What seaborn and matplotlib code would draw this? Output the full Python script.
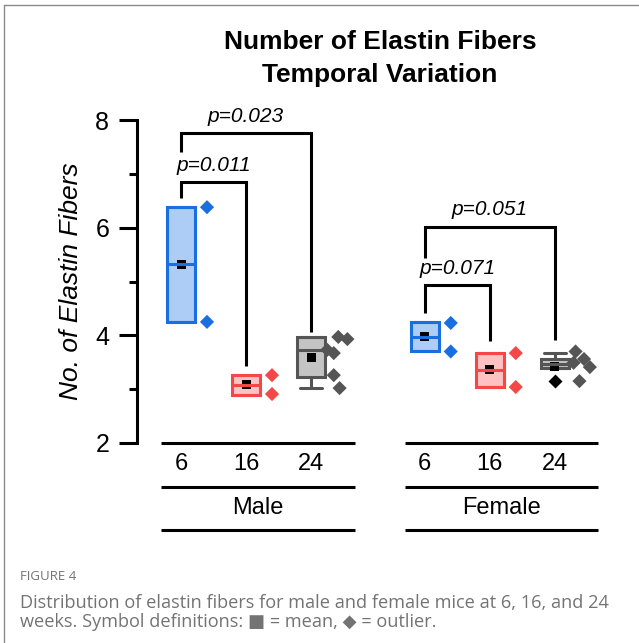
import numpy as np
import pandas as pd
import seaborn as sns
import matplotlib.pyplot as plt
from matplotlib.lines import Line2D

# ---------------- data ----------------
sexes = ["Male", "Male", "Male", "Female", "Female", "Female"]
weeks = ["6", "16", "24", "6", "16", "24"]

# individual observations (diamonds)
male_6 = [6.38, 4.25]
male_16 = [3.26, 2.91]
male_24 = [3.97, 3.93, 3.73, 3.67, 3.26, 3.02]
female_6 = [4.23, 3.70]
female_16 = [3.67, 3.04]
female_24 = [3.70, 3.56, 3.49, 3.41, 3.15]
observations = [male_6, male_16, male_24, female_6, female_16, female_24]

# box statistics
box_q1 = [4.25, 2.89, 3.23, 3.70, 3.04, 3.39]
box_med = [5.32, 3.08, 3.73, 3.97, 3.36, 3.46]
box_q3 = [6.38, 3.26, 3.97, 4.25, 3.68, 3.56]
whisk_lo = [4.25, 2.89, 3.02, 3.70, 3.04, 3.39]
whisk_hi = [6.38, 3.26, 3.97, 4.25, 3.68, 3.68]
means = [5.32, 3.08, 3.58, 3.97, 3.36, 3.43]
box_outliers = [[], [], [], [], [], [3.15]]

# significance brackets
p_labels = ["p=0.011", "p=0.023", "p=0.071", "p=0.051"]
p_from = [0, 0, 3, 3]
p_to = [1, 2, 4, 5]
p_top = [6.84, 7.75, 4.94, 6.02]
p_left_end = [6.55, 7.41, 4.41, 5.44]
p_right_end = [3.43, 4.07, 3.90, 3.91]

# ---------------- layout / style ----------------
positions = [0, 1, 2, 3.75, 4.75, 5.75]
point_offsets = [
    [0.40, 0.40],
    [0.40, 0.40],
    [0.42, 0.56, 0.25, 0.35, 0.35, 0.44],
    [0.40, 0.40],
    [0.40, 0.40],
    [0.32, 0.45, 0.29, 0.54, 0.38],
]
edge_cols = ["#1a6fe0", "#f44848", "#555555"] * 2
face_cols = ["#aecdf6", "#ffc1c1", "#c4c4c4"] * 2

sns.set_style("ticks")
plt.rcParams["font.family"] = ["Liberation Sans", "DejaVu Sans"]
plt.rcParams["text.color"] = "black"
plt.rcParams["axes.labelcolor"] = "black"
plt.rcParams["xtick.color"] = "black"
plt.rcParams["ytick.color"] = "black"

W, H = 639, 643
fig = plt.figure(figsize=(W / 100, H / 100), dpi=100)
ax = fig.add_axes([137 / W, 1 - 443 / H, (600 - 137) / W, (443 - 120) / H])
ax.set_facecolor("none")
ax.set_ylim(2, 8)
ax.set_xlim(-0.677, 6.446)

LW = 2.2

# boxes
for i in range(6):
    st = dict(q1=box_q1[i], med=box_med[i], q3=box_q3[i],
              whislo=whisk_lo[i], whishi=whisk_hi[i], fliers=box_outliers[i])
    ax.bxp([st], positions=[positions[i]], widths=0.43, capwidths=0.34,
           patch_artist=True, showmeans=False, manage_ticks=False,
           boxprops=dict(facecolor=face_cols[i], edgecolor=edge_cols[i], linewidth=LW, zorder=2),
           medianprops=dict(color=edge_cols[i], linewidth=LW, zorder=4),
           whiskerprops=dict(color=edge_cols[i], linewidth=LW),
           capprops=dict(color=edge_cols[i], linewidth=LW),
           flierprops=dict(marker="D", markerfacecolor="black", markeredgecolor="none",
                           markersize=7))

# means
mean_df = pd.DataFrame({"x": positions, "mean": means})
sns.scatterplot(data=mean_df, x="x", y="mean", marker="s", color="black", s=42,
                edgecolor="none", zorder=3, ax=ax, legend=False)

# points
rows = []
for i, obs in enumerate(observations):
    for v, off in zip(obs, point_offsets[i]):
        rows.append({"x": positions[i] + off, "value": v, "grp": i})
pts = pd.DataFrame(rows)
sns.scatterplot(data=pts, x="x", y="value", hue="grp", palette=dict(enumerate(edge_cols)),
                marker="D", s=52, edgecolor="none", zorder=5, ax=ax, legend=False)

# brackets
for k in range(4):
    xa, xb = positions[p_from[k]], positions[p_to[k]]
    ax.plot([xa, xa, xb, xb], [p_left_end[k], p_top[k], p_top[k], p_right_end[k]],
            color="black", lw=LW, solid_joinstyle="miter", solid_capstyle="butt",
            clip_on=False, zorder=6)
    ax.text((xa + xb) / 2, p_top[k] + 0.31, p_labels[k], ha="center", va="center",
            fontsize=15, fontstyle="italic", color="black")

# axes styling
for s in ["top", "right", "bottom"]:
    ax.spines[s].set_visible(False)
ax.spines["left"].set_linewidth(LW)
ax.spines["left"].set_color("black")
ax.set_yticks([2, 4, 6, 8])
ax.set_yticks([3, 5, 7], minor=True)
ax.tick_params(axis="y", which="major", length=13, width=LW, labelsize=18, pad=7,
               color="black", labelcolor="black")
ax.tick_params(axis="y", which="minor", length=6, width=LW, color="black")
ax.set_xticks(positions)
ax.set_xticklabels(weeks)
ax.tick_params(axis="x", length=0, labelsize=17, pad=7, labelcolor="black")
ax.set_xlabel("")
ax.set_ylabel("No. of Elastin Fibers", fontsize=19, fontstyle="italic", labelpad=9,
              color="black")

# group lines and labels
for sex in ["Male", "Female"]:
    idx = [i for i, s in enumerate(sexes) if s == sex]
    x0 = positions[idx[0]] - 0.31
    x1 = positions[idx[-1]] + 0.67
    for yv in [2.0, 1.182, 0.383]:
        ax.plot([x0, x1], [yv, yv], color="black", lw=LW, clip_on=False,
                solid_capstyle="butt")
    ax.text((x0 + x1) / 2, 0.79, sex, ha="center", va="center", fontsize=17,
            color="black")

# title
fig.text(380 / W, 1 - 42 / H, "Number of Elastin Fibers", ha="center", va="center",
         fontsize=19, fontweight="bold", color="black")
fig.text(380 / W, 1 - 75 / H, "Temporal Variation", ha="center", va="center",
         fontsize=19, fontweight="bold", color="black")

# caption
cap_font = ["Open Sans", "DejaVu Sans"]
cap_col = "#737373"
fig.text(20 / W, 1 - 577 / H, "FIGURE 4", ha="left", va="center", fontsize=9.5,
         color=cap_col, family=cap_font)
fig.text(20 / W, 1 - 603 / H,
         "Distribution of elastin fibers for male and female mice at 6, 16, and 24",
         ha="left", va="center", fontsize=13.1, color=cap_col, family=cap_font)
fig.text(20 / W, 1 - 622 / H,
         "weeks. Symbol definitions: \u25a0 = mean, \u25c6 = outlier.",
         ha="left", va="center", fontsize=13.1, color=cap_col, family=cap_font)

# page frame
fig.add_artist(Line2D([4 / W, 1], [1 - 5 / H, 1 - 5 / H], transform=fig.transFigure,
                      color="#8a8a8a", lw=1))
fig.add_artist(Line2D([4 / W, 4 / W], [0, 1 - 5 / H], transform=fig.transFigure,
                      color="#8a8a8a", lw=1))

fig.savefig("out.png", dpi=100)
